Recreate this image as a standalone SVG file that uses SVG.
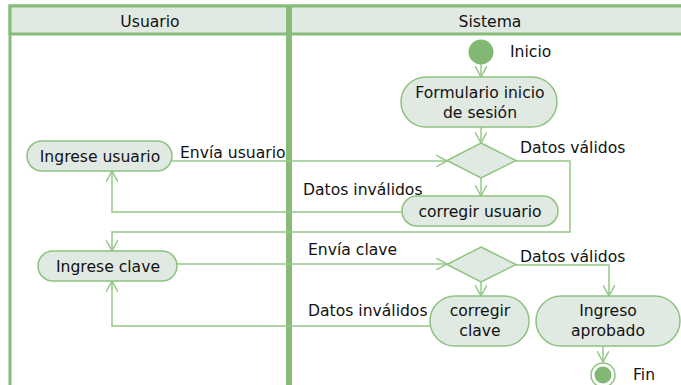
<svg xmlns="http://www.w3.org/2000/svg" width="681" height="385" viewBox="0 0 681 385">
<defs>
<style>
.lane{fill:none;stroke:#86bb78;stroke-width:3}
.hdr{fill:#e1e9e3;stroke:#86bb78;stroke-width:3}
.node{fill:#e1e9e3;stroke:#8dc27f;stroke-width:1.5}
.edge{fill:none;stroke:#95c888;stroke-width:1.5}
text{font-family:"DejaVu Sans",Verdana,sans-serif;font-size:15.6px;fill:#111}
.c{text-anchor:middle}
</style>
<marker id="arr" viewBox="0 0 12 12" refX="11" refY="6" markerWidth="12" markerHeight="12" markerUnits="userSpaceOnUse" orient="auto">
<path d="M0,0 L11,6 L0,12" fill="none" stroke="#95c888" stroke-width="1.5"/>
</marker>
</defs>
<rect width="681" height="385" fill="#fff"/>
<g id="lane-usuario">
<rect class="lane" x="10" y="6" width="277.5" height="390"/>
<rect class="hdr" x="10" y="6" width="277.5" height="28"/>
<text class="c" x="150" y="27">Usuario</text>
</g>
<g id="lane-sistema">
<rect class="lane" x="290.5" y="6" width="400" height="390"/>
<rect class="hdr" x="290.5" y="6" width="400" height="28"/>
<text class="c" x="490" y="27">Sistema</text>
</g>
<g id="connectors">
<path class="edge" d="M481,64 V77" marker-end="url(#arr)"/>
<path class="edge" d="M481,127 V143" marker-end="url(#arr)"/>
<path class="edge" d="M172,161 H447" marker-end="url(#arr)"/>
<path class="edge" d="M481,178 V196" marker-end="url(#arr)"/>
<path class="edge" d="M516,161 H570 V232 H112 V251" marker-end="url(#arr)"/>
<path class="edge" d="M402,212 H112 V171" marker-end="url(#arr)"/>
<path class="edge" d="M177,264 H447" marker-end="url(#arr)"/>
<path class="edge" d="M481,282 V296" marker-end="url(#arr)"/>
<path class="edge" d="M516,265 H609 V296" marker-end="url(#arr)"/>
<path class="edge" d="M430,326 H112 V281" marker-end="url(#arr)"/>
<path class="edge" d="M603,346 V362" marker-end="url(#arr)"/>
<text x="180" y="158">Envía usuario</text>
<text x="520" y="153">Datos válidos</text>
<text x="303" y="195">Datos inválidos</text>
<text x="308" y="255">Envía clave</text>
<text x="520" y="262">Datos válidos</text>
<text x="308" y="316">Datos inválidos</text>
</g>
<g id="inicio">
<circle cx="481" cy="52" r="12.5" fill="#82b874"/>
<text x="510" y="57">Inicio</text>
</g>
<g id="formulario">
<rect class="node" x="401" y="77" width="156" height="50" rx="25"/>
<text class="c" x="480" y="98">Formulario inicio</text>
<text class="c" x="480" y="118">de sesión</text>
</g>
<g id="decision1">
<path class="node" d="M481,143 L516,160.5 L481,178 L447,160.5 Z"/>
</g>
<g id="ingrese-usuario">
<rect class="node" x="27" y="141" width="145" height="30" rx="15"/>
<text class="c" x="100" y="161.5">Ingrese usuario</text>
</g>
<g id="corregir-usuario">
<rect class="node" x="402" y="196" width="156" height="30" rx="15"/>
<text class="c" x="480" y="216.5">corregir usuario</text>
</g>
<g id="ingrese-clave">
<rect class="node" x="38" y="251" width="139" height="30" rx="15"/>
<text class="c" x="108" y="271.5">Ingrese clave</text>
</g>
<g id="decision2">
<path class="node" d="M481,247 L516,264.5 L481,282 L447,264.5 Z"/>
</g>
<g id="corregir-clave">
<rect class="node" x="430" y="296" width="99" height="50" rx="25"/>
<text class="c" x="480" y="316">corregir</text>
<text class="c" x="480" y="336">clave</text>
</g>
<g id="ingreso-aprobado">
<rect class="node" x="536" y="296" width="144" height="50" rx="25"/>
<text class="c" x="608" y="316">Ingreso</text>
<text class="c" x="608" y="336">aprobado</text>
</g>
<g id="fin">
<circle cx="603" cy="375" r="12" fill="#fff" stroke="#8dc27f" stroke-width="1.5"/>
<circle cx="603" cy="375" r="8.5" fill="#82b874"/>
<text x="633" y="380">Fin</text>
</g>
</svg>
